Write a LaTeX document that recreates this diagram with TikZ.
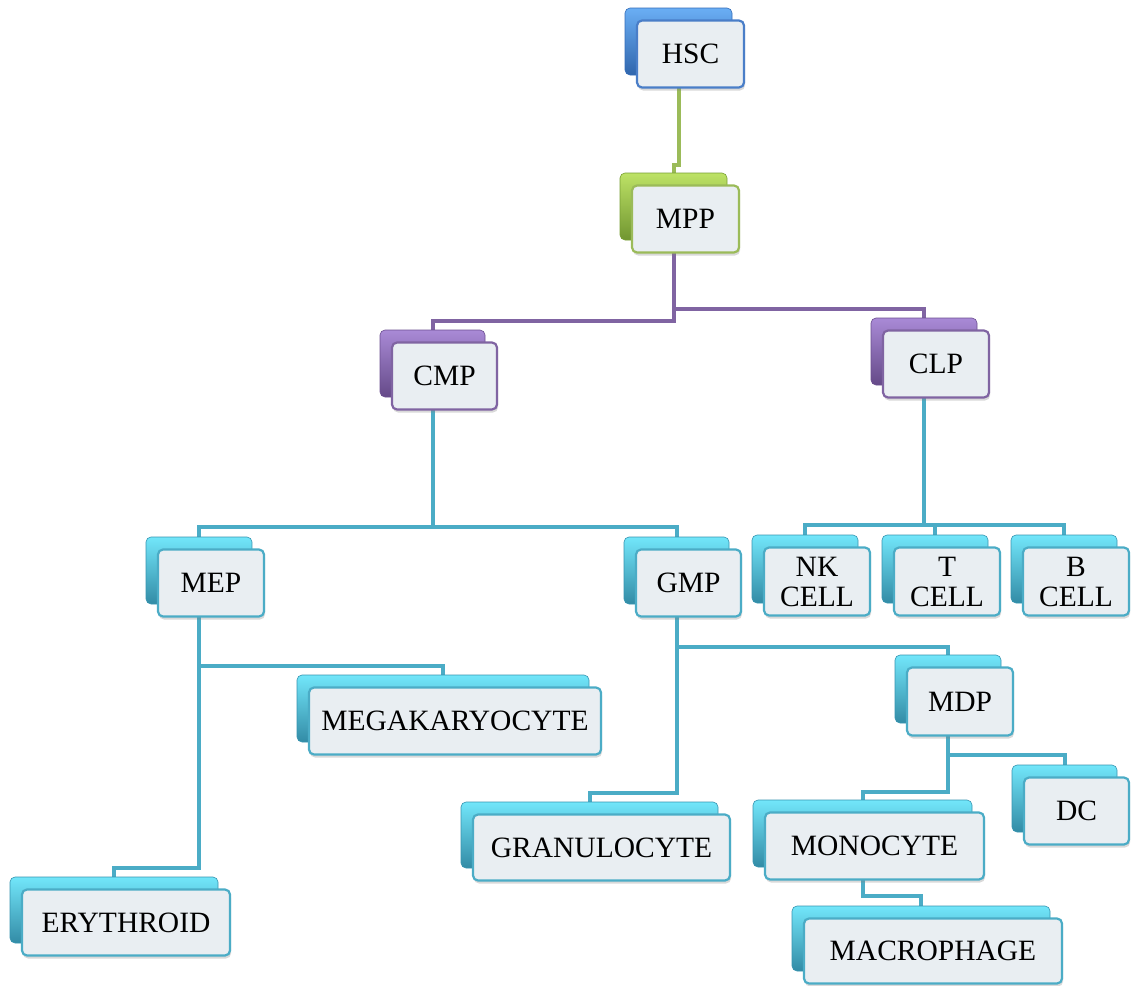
\documentclass[tikz,border=0pt]{standalone}
\usepackage{fontspec}
\setmainfont{Liberation Serif}
\usetikzlibrary{backgrounds,shadows}
\definecolor{tealline}{HTML}{4BACC6}
\definecolor{purpline}{HTML}{8064A2}
\definecolor{greenline}{HTML}{9BBB59}
\definecolor{blueline}{HTML}{4A7EC8}
\definecolor{tealback}{HTML}{3FAECF}
\definecolor{tealtop}{HTML}{72E6FA}
\definecolor{purpback}{HTML}{7E5CAA}
\definecolor{purptop}{HTML}{A98AD6}
\definecolor{greenback}{HTML}{8DBB3C}
\definecolor{greentop}{HTML}{BDE266}
\definecolor{blueback}{HTML}{3C7FD8}
\definecolor{bluetop}{HTML}{6AAEF4}
\definecolor{frontfill}{HTML}{E9EEF2}
\tikzset{
  boxbase/.style={rectangle, rounded corners=5pt, inner sep=2pt},
  backteal/.style={boxbase, draw=tealback!85!black, line width=0.6pt, top color=tealtop, middle color=tealback, bottom color=tealback!80!black},
  backpurp/.style={boxbase, draw=purpback!85!black, line width=0.6pt, top color=purptop, middle color=purpback, bottom color=purpback!80!black},
  backgreen/.style={boxbase, draw=greenback!85!black, line width=0.6pt, top color=greentop, middle color=greenback, bottom color=greenback!80!black},
  backblue/.style={boxbase, draw=blueback!85!black, line width=0.6pt, top color=bluetop, middle color=blueback, bottom color=blueback!80!black},
  frontbase/.style={boxbase, fill=frontfill, line width=2.2pt, align=center,
    font=\fontsize{29.5}{30}\selectfont,
    drop shadow={opacity=0.3, shadow xshift=1pt, shadow yshift=-3pt}},
  frontteal/.style={frontbase, draw=tealline},
  frontpurp/.style={frontbase, draw=purpline},
  frontgreen/.style={frontbase, draw=greenline},
  frontblue/.style={frontbase, draw=blueline},
  conn/.style={line width=4pt},
  tconn/.style={conn, draw=tealline},
  pconn/.style={conn, draw=purpline},
  gconn/.style={conn, draw=greenline},
}
\newcommand\cellbox[7]{%
  \pgfmathsetmacro\cbw{#4-#2}\pgfmathsetmacro\cbh{#5-#3}%
  \pgfmathsetmacro\cbx{(#2+#4)/2}\pgfmathsetmacro\cby{(#3+#5)/2}%
  \pgfmathsetmacro\cfx{\cbx+12}\pgfmathsetmacro\cfy{\cby+12.5}%
  \node[back#6, minimum width=\cbw pt, minimum height=\cbh pt] (#1b) at (\cbx,\cby) {};
  \node[front#6, minimum width=\cbw pt, minimum height=\cbh pt] (#1) at (\cfx,\cfy) {#7};
}
\begin{document}
\begin{tikzpicture}[x=1pt,y=-1pt]
\useasboundingbox (0,0) rectangle (1139,985);
\cellbox{hsc}{625}{8}{732}{75}{blue}{HSC}
\cellbox{mpp}{620}{173}{727}{240}{green}{MPP}
\cellbox{cmp}{380}{330}{485}{397}{purp}{CMP}
\cellbox{clp}{871}{318}{977}{385}{purp}{CLP}
\cellbox{mep}{146}{537}{252}{604}{teal}{MEP}
\cellbox{gmp}{624}{537}{729}{604}{teal}{GMP}
\cellbox{nk}{752}{535}{858}{603}{teal}{NK\\CELL}
\cellbox{tc}{882}{535}{988}{603}{teal}{T\\CELL}
\cellbox{bc}{1011}{535}{1117}{603}{teal}{B\\CELL}
\cellbox{mega}{297}{675}{589}{742}{teal}{MEGAKARYOCYTE}
\cellbox{gran}{461}{802}{718}{868}{teal}{GRANULOCYTE}
\cellbox{mdp}{895}{655}{1001}{723}{teal}{MDP}
\cellbox{dc}{1012}{765}{1117}{832}{teal}{DC}
\cellbox{mono}{753}{800}{972}{867}{teal}{MONOCYTE}
\cellbox{ery}{10}{877}{218}{943}{teal}{ERYTHROID}
\cellbox{macro}{792}{906}{1050}{971}{teal}{MACROPHAGE}
\begin{pgfonlayer}{background}
\draw[gconn] (hscb.south) -- ++(0,90) -| (mppb.north);
\draw[pconn] (mppb.south) -- ++(0,81) -| (cmpb.north);
\draw[pconn] (mppb.south) -- ++(0,69) -| (clpb.north);
\draw[tconn] (cmpb.south) -- ++(0,130) -| (mepb.north);
\draw[tconn] (cmpb.south) -- ++(0,130) -| (gmpb.north);
\draw[tconn] (clpb.south) -- ++(0,140) -| (nkb.north);
\draw[tconn] (clpb.south) -- ++(0,140) -| (tcb.north);
\draw[tconn] (clpb.south) -- ++(0,140) -| (bcb.north);
\draw[tconn] (mepb.south) -- ++(0,62) -| (megab.north);
\draw[tconn] (mepb.south) -- ++(0,264) -| (eryb.north);
\draw[tconn] (gmpb.south) -- ++(0,43) -| (mdpb.north);
\draw[tconn] (gmpb.south) -- ++(0,189) -| (granb.north);
\draw[tconn] (mdpb.south) -- ++(0,32) -| (dcb.north);
\draw[tconn] (mdpb.south) -- ++(0,69) -| (monob.north);
\draw[tconn] (monob.south) -- ++(0,29) -| (macrob.north);
\end{pgfonlayer}
\end{tikzpicture}
\end{document}
